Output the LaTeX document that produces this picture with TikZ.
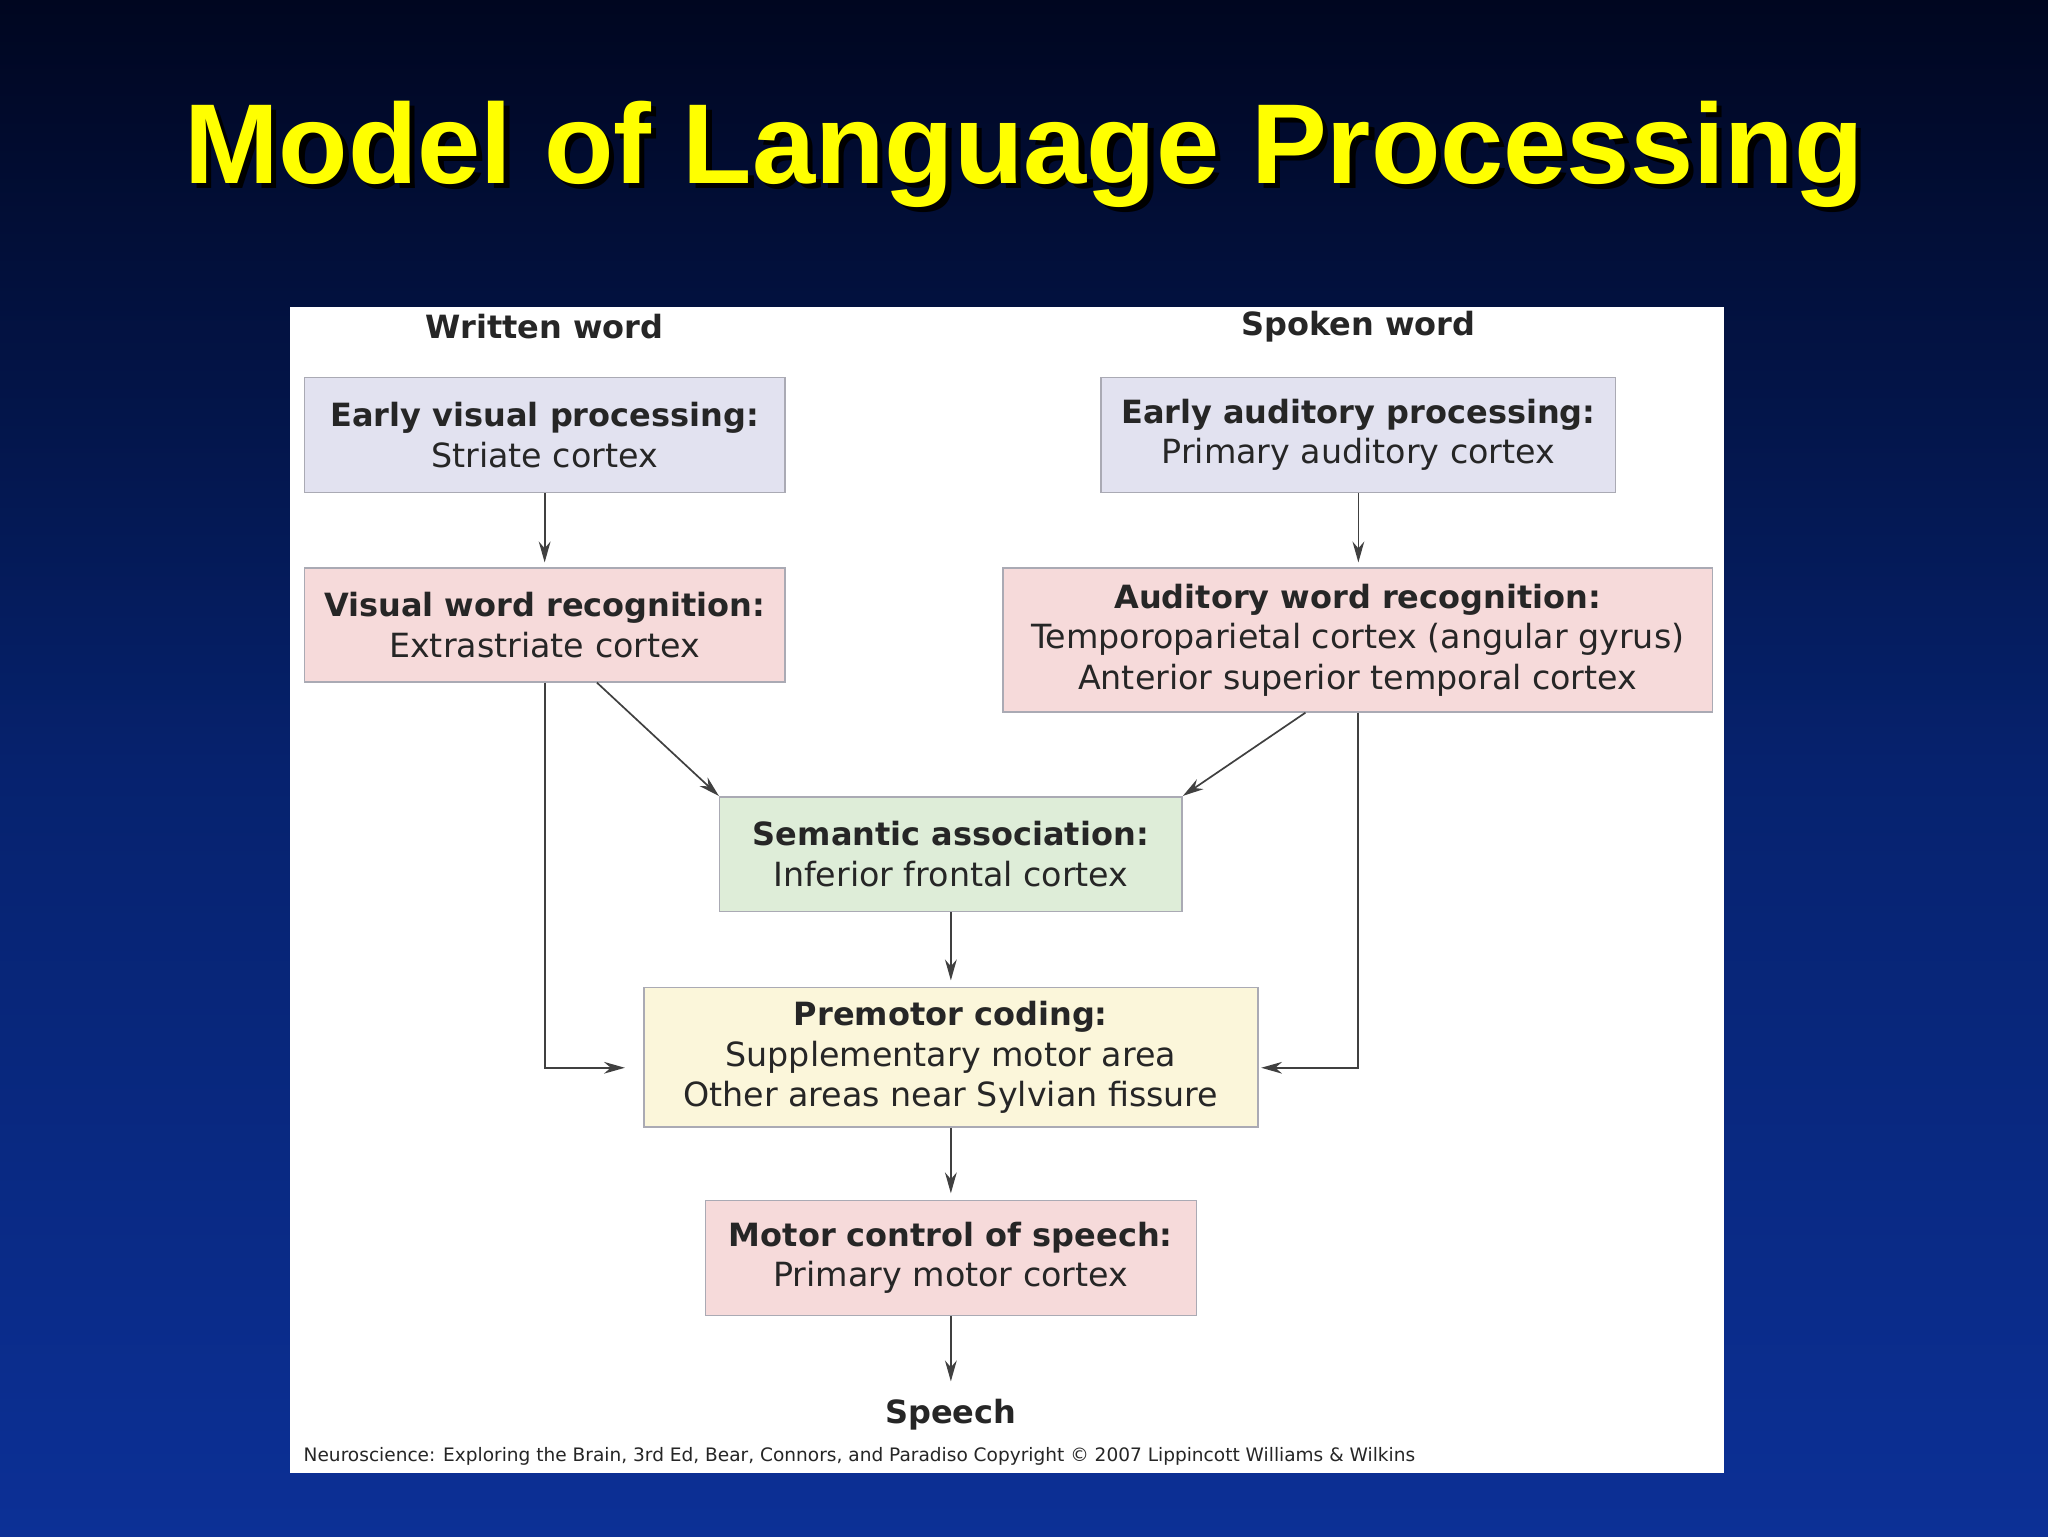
\documentclass[tikz,border=0pt]{standalone}
\usepackage{fontspec}
\setmainfont{DejaVu Sans}
\newfontfamily\titlefont{Liberation Sans}
\usetikzlibrary{arrows.meta,calc}
\definecolor{lav}{RGB}{226,226,240}
\definecolor{pnk}{RGB}{246,218,218}
\definecolor{grn}{RGB}{222,237,216}
\definecolor{ylw}{RGB}{251,246,218}
\definecolor{bord}{RGB}{170,170,180}
\newcommand{\hd}[1]{{\fontsize{24.5}{32}\selectfont\bfseries #1}}
\tikzset{
 box/.style={draw=bord,line width=1.2pt,align=center,inner sep=0pt,font=\fontsize{25.5}{31}\selectfont,text=black!85},
 arr/.style={-{Stealth[length=16pt,width=9pt]},line width=1.3pt,draw=black!75},
 lbl/.style={font=\fontsize{24.5}{28}\selectfont\bfseries,text=black!85}
}
\begin{document}
\begin{tikzpicture}[x=1pt,y=-1pt]
\shade[top color={rgb,255:red,0;green,6;blue,32},bottom color={rgb,255:red,12;green,48;blue,150},middle color={rgb,255:red,6;green,34;blue,110}] (0,0) rectangle (1568,1176);
\useasboundingbox (0,0) rectangle (1568,1176);
\node[font=\titlefont\fontsize{87}{95}\selectfont\bfseries,text=black] (titleshadow) at (788,122) {Model of Language Processing};
\node[font=\titlefont\fontsize{87}{95}\selectfont\bfseries,text={rgb,255:red,255;green,255;blue,0}] (title) at (784,118) {Model of Language Processing};
\fill[white] (222,235) rectangle (1320,1128);
\node[lbl] (ww) at (417,250) {Written word};
\node[lbl] (sw) at (1040,250) {Spoken word};
\node[lbl] (sp) at (728,1083) {Speech};
\node[box,fill=lav,minimum width=368,minimum height=88] (ev) at (417,333) {\hd{Early visual processing:}\\Striate cortex};
\node[box,fill=lav,minimum width=394,minimum height=88] (ea) at (1040,333) {\hd{Early auditory processing:}\\Primary auditory cortex};
\node[box,fill=pnk,minimum width=368,minimum height=87] (vw) at (417,478.5) {\hd{Visual word recognition:}\\Extrastriate cortex};
\node[box,fill=pnk,minimum width=543,minimum height=110] (aw) at (1039.5,490) {\hd{Auditory word recognition:}\\Temporoparietal cortex (angular gyrus)\\Anterior superior temporal cortex};
\node[box,fill=grn,minimum width=354,minimum height=88] (se) at (728,654) {\hd{Semantic association:}\\Inferior frontal cortex};
\node[box,fill=ylw,minimum width=470,minimum height=107] (pm) at (728,809.5) {\hd{Premotor coding:}\\Supplementary motor area\\Other areas near Sylvian fissure};
\node[box,fill=pnk,minimum width=376,minimum height=88] (mc) at (728,963) {\hd{Motor control of speech:}\\Primary motor cortex};
\node[anchor=west,font=\fontsize{14.2}{16}\selectfont,text=black!85] (fn) at (229,1115) {Neuroscience: Exploring the Brain, 3rd Ed, Bear, Connors, and Paradiso Copyright \textcopyright\ 2007 Lippincott Williams \& Wilkins};
\draw[arr] (ev.south) -- ++(0,53);
\draw[arr] (ea.south) -- ++(0,53);
\draw[arr] ($(vw.south)+(40,0)$) -- (se.north west);
\draw[arr] ($(aw.south)+(-40,0)$) -- (se.north east);
\draw[arr] (se.south) -- ++(0,52);
\draw[arr] (vw.south) |- ($(pm.west)+(-14,8)$);
\draw[arr] (aw.south) |- ($(pm.east)+(2,8)$);
\draw[arr] (pm.south) -- ++(0,50);
\draw[arr] (mc.south) -- ++(0,50);
\end{tikzpicture}
\end{document}
